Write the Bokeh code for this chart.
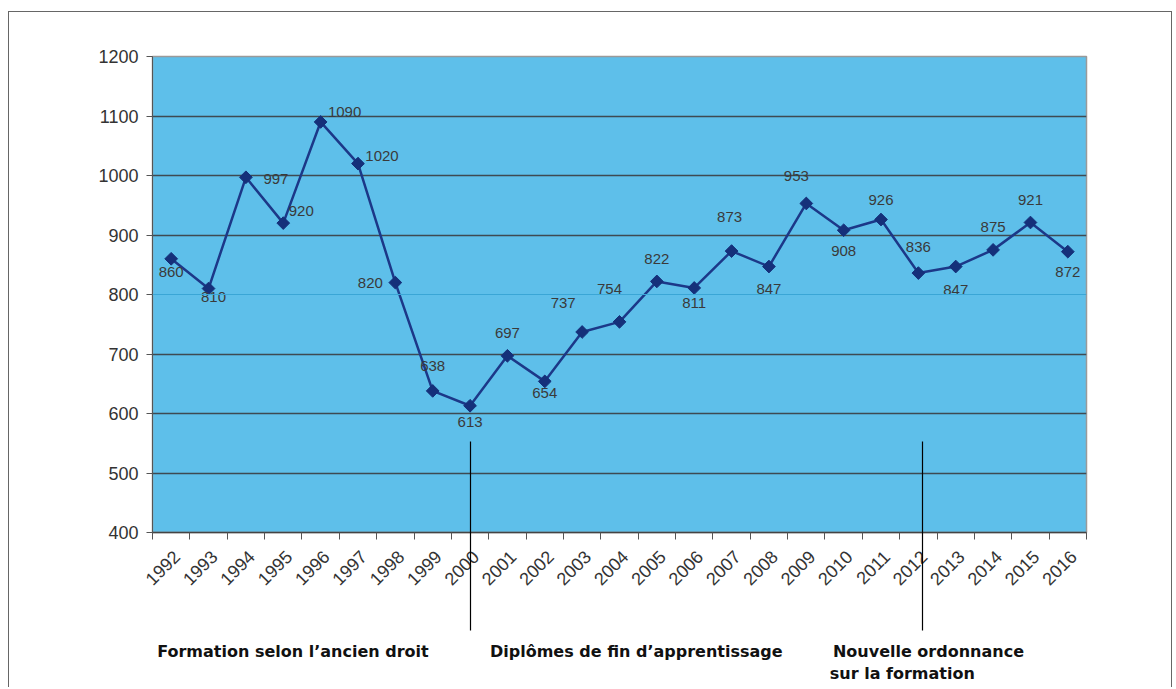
import math
from bokeh.plotting import figure
from bokeh.models import FixedTicker, Span, Range1d, LinearAxis
from bokeh.embed import file_html
from bokeh.resources import INLINE
from bokeh.core.properties import value

# ---- data ----
years = ["1992", "1993", "1994", "1995", "1996", "1997", "1998", "1999", "2000",
         "2001", "2002", "2003", "2004", "2005", "2006", "2007", "2008", "2009",
         "2010", "2011", "2012", "2013", "2014", "2015", "2016"]
counts = [860, 810, 997, 920, 1090, 1020, 820, 638, 613, 697, 654, 737, 754,
          822, 811, 873, 847, 953, 908, 926, 836, 847, 875, 921, 872]
y_ticks = [400, 500, 600, 700, 800, 900, 1000, 1100, 1200]
captions = ["Formation selon l\u2019ancien droit", "Dipl\u00f4mes de fin d\u2019apprentissage",
            "Nouvelle ordonnance"]
caption2 = "sur la formation"

# label offsets (screen px, dx right, dy down)
lab_dx = [0, 5, 30, 18, 24, 24, -25, 0, 0, 0, 0, -19, -10, 0, 0, -2, 0, -10, 0, 0, 0, 0, 0, 0, 0]
lab_dy = [13, 8, 2, -12, -10, -8, 0, -25, 16, -23, 12, -29, -33, -22, 15, -34, 22, -27, 21, -20, -26, 23, -23, -23, 20]
# caption / separator positions on the year scale
caption_x = [3.76, 12.95, 20.77]
caption2_x = [20.07]
separator_x = [8.5, 20.62]
year_label_shift = 0.15  # rotated year labels end slightly right of the slot centre

xs = [i + 0.5 for i in range(len(years))]
label_pos = [x + year_label_shift for x in xs]

p = figure(width=1164, height=676, output_backend="svg", toolbar_location=None,
           x_range=Range1d(0, len(years)), y_range=Range1d(400, 1200),
           min_border_left=143, min_border_right=87, min_border_top=44, min_border_bottom=156,
           background_fill_color="#5ebfea", border_fill_color="white")
p.styles = {"border-top": "1.5px solid #666", "border-left": "1.5px solid #666",
            "border-right": "1.5px solid #666", "margin-top": "11px", "margin-left": "8px"}
p.outline_line_color = "#9a9a9a"
p.outline_line_width = 1.5

# year axis
p.xaxis.ticker = FixedTicker(ticks=label_pos, minor_ticks=list(range(len(years) + 1)))
p.xaxis.major_label_overrides = {x: y for x, y in zip(label_pos, years)}
p.xaxis.major_label_orientation = math.pi / 4
p.xaxis.major_tick_out = 0
p.xaxis.major_tick_in = 0
p.xaxis.minor_tick_out = 7
p.xaxis.minor_tick_in = 0
p.xaxis.minor_tick_line_color = "#555555"
p.xaxis.axis_line_color = "#444444"
p.xaxis.axis_line_width = 1.5
p.xaxis.major_label_text_font = "Liberation Sans"
p.xaxis.major_label_text_font_size = "18px"
p.xaxis.major_label_text_color = "#333333"
p.xaxis.major_label_standoff = 14

# caption axis (labels + separator lines as minor ticks)
cap_axis = LinearAxis(ticker=FixedTicker(ticks=caption_x, minor_ticks=separator_x),
                      major_label_overrides={x: t for x, t in zip(caption_x, captions)})
cap_axis.axis_line_color = None
cap_axis.major_tick_line_color = None
cap_axis.major_tick_out = 0
cap_axis.major_tick_in = 0
cap_axis.minor_tick_line_color = "black"
cap_axis.minor_tick_line_width = 1.2
cap_axis.minor_tick_in = 153
cap_axis.minor_tick_out = 36
cap_axis.major_label_standoff = 11
cap_axis.major_label_text_font = "DejaVu Sans"
cap_axis.major_label_text_font_style = "bold"
cap_axis.major_label_text_font_size = "16px"
cap_axis.major_label_text_color = "#111111"
p.add_layout(cap_axis, "below")

cap2_axis = LinearAxis(ticker=FixedTicker(ticks=caption2_x, minor_ticks=[]),
                       major_label_overrides={x: caption2 for x in caption2_x})
cap2_axis.axis_line_color = None
cap2_axis.major_tick_line_color = None
cap2_axis.minor_tick_line_color = None
cap2_axis.major_tick_out = 0
cap2_axis.major_tick_in = 0
cap2_axis.major_label_standoff = 0
cap2_axis.major_label_text_font = "DejaVu Sans"
cap2_axis.major_label_text_font_style = "bold"
cap2_axis.major_label_text_font_size = "16px"
cap2_axis.major_label_text_color = "#111111"
p.add_layout(cap2_axis, "below")

# y axis
p.yaxis.ticker = FixedTicker(ticks=y_ticks)
p.yaxis.minor_tick_line_color = None
p.yaxis.major_tick_out = 6
p.yaxis.major_tick_in = 0
p.yaxis.major_tick_line_color = "#555555"
p.yaxis.axis_line_color = "#555555"
p.yaxis.major_label_text_font = "Liberation Sans"
p.yaxis.major_label_text_font_size = "18px"
p.yaxis.major_label_text_color = "#333333"
p.yaxis.major_label_standoff = 8

p.xgrid.grid_line_color = None
p.ygrid.ticker = FixedTicker(ticks=[t for t in y_ticks if t not in (400, 800, 1200)])
p.ygrid.grid_line_color = "#3e4a52"
p.ygrid.grid_line_width = 1.5
p.add_layout(Span(location=800, dimension="width", line_color="#3aa6d6", line_width=1))

# series
p.line(xs, counts, line_color="#1c3888", line_width=2.5)
p.scatter(xs, counts, marker="square", angle=math.pi / 4, size=9,
          fill_color="#15307a", line_color="#15307a")
p.text(xs, counts, text=[str(c) for c in counts], x_offset=lab_dx, y_offset=lab_dy,
       text_align="center", text_baseline="middle", text_font=value("Liberation Sans"),
       text_font_size="15px", text_color="#3a3a3a")

open("out.html", "w").write(file_html(p, INLINE))
